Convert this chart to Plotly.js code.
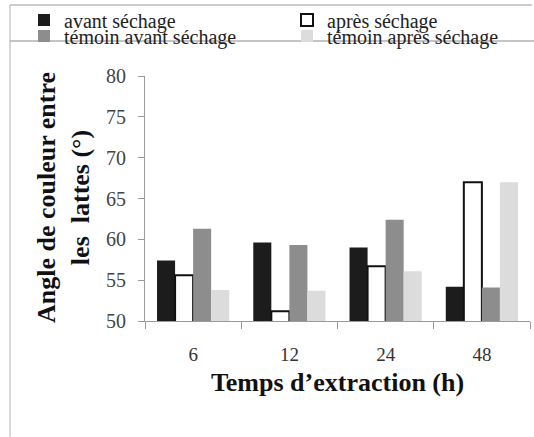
<!DOCTYPE html>
<html>
<head>
<meta charset="utf-8">
<script src="https://cdn.plot.ly/plotly-3.0.1.min.js"></script>
<style>html,body{margin:0;padding:0;background:#fff;}#chart{width:534px;height:437px;}</style>
</head>
<body>
<div id="chart"></div>
<script>
// Data
var categories = ["6", "12", "24", "48"];
var seriesNames = ["avant séchage", "après séchage", "témoin avant séchage", "témoin après séchage"];
var avantSechage = [57.4, 59.6, 59.0, 54.2];
var apresSechage = [55.6, 51.2, 56.7, 67.0];
var temoinAvant = [61.3, 59.3, 62.4, 54.1];
var temoinApres = [53.8, 53.7, 56.1, 67.0];
var yTickVals = [50, 55, 60, 65, 70, 75, 80];
var xTitle = "Temps d’extraction (h)";
var yTitle = "Angle de couleur entre<br>les  lattes (°)";

var W = 534, H = 437;
var M = {l: 145, r: 4, t: 76, b: 116, autoexpand: false};
var pw = W - M.l - M.r, ph = H - M.t - M.b;
function px(x) { return (x - M.l) / pw; }
function py(y) { return (H - M.b - y) / ph; }

var serif = "Liberation Serif";
var styles = [
  {color: "#1c1c1c", line: {width: 0}},
  {color: "#ffffff", line: {width: 2, color: "#111111"}},
  {color: "#8d8d8d", line: {width: 0}},
  {color: "#dcdcdc", line: {width: 0}}
];
var values = [avantSechage, apresSechage, temoinAvant, temoinApres];
var legendIds = ["legend", "legend2", "legend3", "legend4"];
// legend placement (pixels of the item start / row centre)
var legendPos = [[24, 20], [287, 20], [24, 36], [287, 36]];

var traces = values.map(function (v, i) {
  return {
    type: "bar",
    name: seriesNames[i],
    x: categories,
    y: v,
    marker: styles[i],
    legend: legendIds[i],
    hoverinfo: "x+y+name"
  };
});

function legendAt(p) {
  return {
    orientation: "v",
    xref: "container", yref: "container",
    x: p[0] / W, y: 1 - p[1] / H,
    xanchor: "left", yanchor: "middle",
    itemwidth: 30,
    font: {family: serif, size: 20, color: "#222"},
    bgcolor: "rgba(0,0,0,0)",
    borderwidth: 0
  };
}

var layout = {
  width: W, height: H,
  margin: M,
  paper_bgcolor: "#fff",
  plot_bgcolor: "#fff",
  barmode: "group",
  bargap: 0.25,
  bargroupgap: 0,
  showlegend: true,
  legend: legendAt(legendPos[0]),
  legend2: legendAt(legendPos[1]),
  legend3: legendAt(legendPos[2]),
  legend4: legendAt(legendPos[3]),
  xaxis: {
    type: "category",
    automargin: true,
    showline: true, linecolor: "#9a9a9a", linewidth: 1,
    ticks: "outside", tickson: "boundaries", ticklen: 7, tickcolor: "#9a9a9a",
    ticklabelstandoff: 16,
    tickfont: {family: serif, size: 19, color: "#333"},
    showgrid: false, zeroline: false,
    title: {text: "<b>" + xTitle + "</b>", font: {family: serif, size: 26, color: "#111"}, standoff: 9}
  },
  yaxis: {
    range: [50, 80],
    automargin: true,
    tickvals: yTickVals,
    showline: true, linecolor: "#9a9a9a", linewidth: 1,
    ticks: "outside", ticklen: 6, tickcolor: "#9a9a9a",
    ticklabelstandoff: 8,
    tickfont: {family: serif, size: 20, color: "#444"},
    showgrid: false, zeroline: false
  },
  annotations: [
    {
      text: "<b>" + yTitle + "</b>",
      xref: "paper", yref: "paper",
      x: px(63), y: py(198),
      xanchor: "center", yanchor: "middle",
      textangle: -90,
      showarrow: false,
      font: {family: serif, size: 26, color: "#111"}
    }
  ],
  shapes: [
    {type: "line", xref: "paper", yref: "paper", x0: px(10), x1: px(532), y0: py(5), y1: py(5), line: {color: "#9a9a9a", width: 1}},
    {type: "line", xref: "paper", yref: "paper", x0: px(10), x1: px(534), y0: py(41), y1: py(41), line: {color: "#8a8a8a", width: 1}},
    {type: "line", xref: "paper", yref: "paper", x0: px(10), x1: px(10), y0: py(5), y1: py(437), line: {color: "#b0b0b0", width: 1}}
  ]
};

Plotly.newPlot("chart", traces, layout, {staticPlot: true, displayModeBar: false});
</script>
</body>
</html>
